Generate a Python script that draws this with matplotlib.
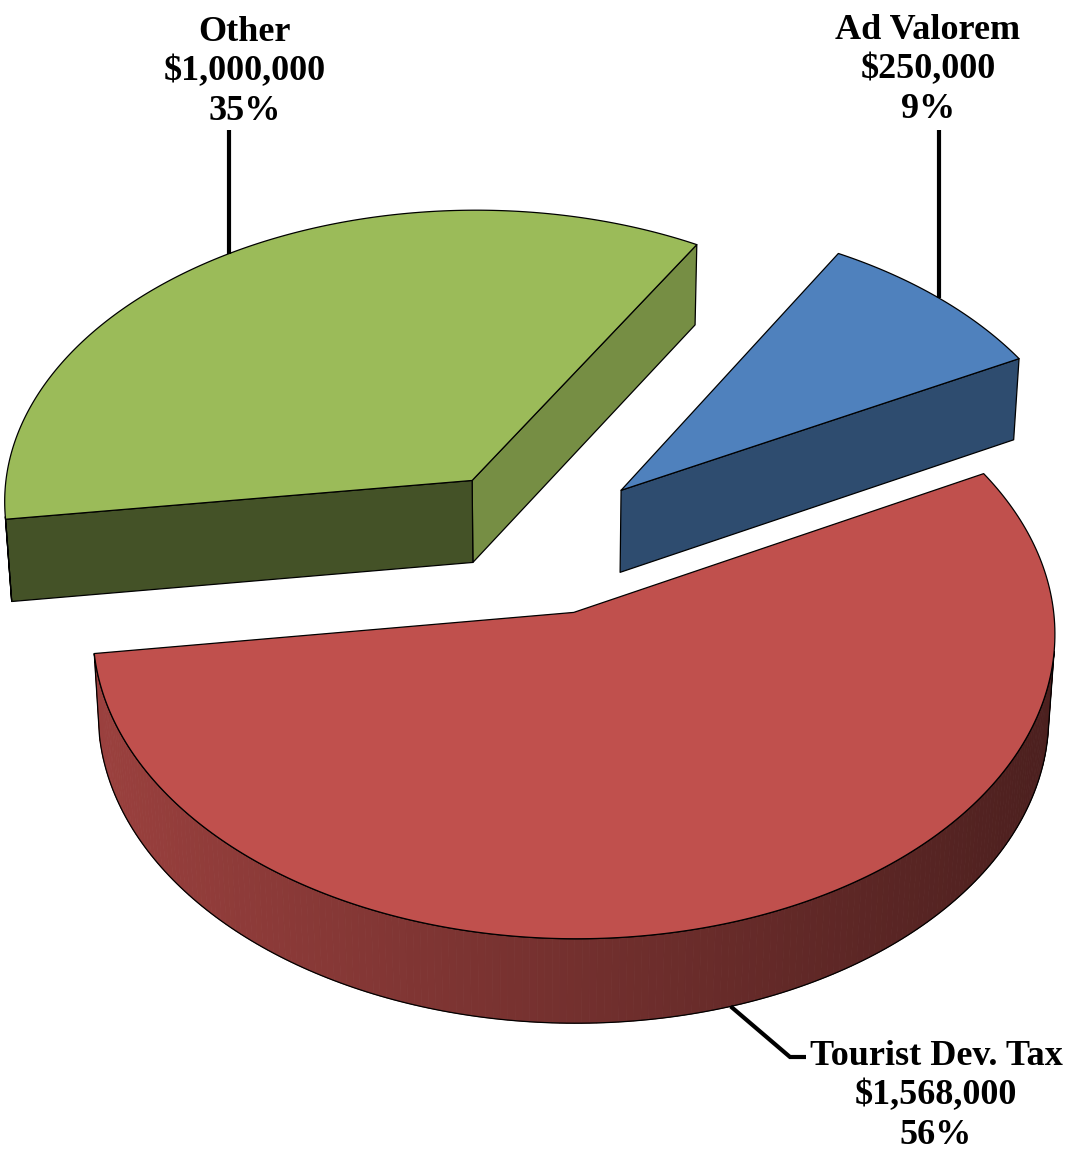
import numpy as np
import matplotlib.pyplot as plt
from matplotlib.patches import Polygon
from matplotlib.colors import to_rgb

# revenue sources
labels = ['Ad Valorem', 'Other', 'Tourist Dev. Tax']
amounts = [250000, 1000000, 1568000]
colors = ['#4f81bd', '#9bbb59', '#c0504d']
explode = [0.25, 0.25, 0.25]

# view of the 3-D pie (radius 1 disc, perspective camera)
START = 28.0
ELEV = np.radians(38.7)
DIST = 12.0
FOCAL = 5670
CX, CY = 537, 541
THICK = 0.226

SIN, COS = np.sin(ELEV), np.cos(ELEV)
CAM = np.array([0.0, -DIST * COS, DIST * SIN])


def project(x, y, z):
    up = y * SIN + z * COS
    depth = y * COS - z * SIN + DIST
    return CX + FOCAL * x / depth, CY - FOCAL * up / depth


def facing(normal, point):
    return np.dot(normal, CAM - np.asarray(point)) > 0


def shade(color, k):
    return tuple(np.clip(np.array(to_rgb(color)) * k, 0, 1))


fig = plt.figure(figsize=(10.7, 11.5), dpi=100)
ax = fig.add_axes([0, 0, 1, 1])
ax.set_xlim(0, 1070)
ax.set_ylim(1150, 0)
ax.axis('off')

total = sum(amounts)
fracs = [a / total for a in amounts]
bounds = START + 360 * np.concatenate([[0], np.cumsum(fracs)])

slices = []
for i in range(len(amounts)):
    t0, t1 = np.radians(bounds[i]), np.radians(bounds[i + 1])
    mid = (t0 + t1) / 2
    ox, oy = explode[i] * np.cos(mid), explode[i] * np.sin(mid)
    slices.append((i, t0, t1, mid, ox, oy))

# back slices first
order = sorted(slices, key=lambda s: -s[5])

EDGE = dict(edgecolor='black', linewidth=0.9)

for i, t0, t1, mid, ox, oy in order:
    col = colors[i]
    ts = np.linspace(t0, t1, 240)
    rx, ry = ox + np.cos(ts), oy + np.sin(ts)

    # radial walls
    for t, sign in ((t0, -1), (t1, 1)):
        n = np.array([-sign * np.sin(t), sign * np.cos(t), 0.0])
        ex, ey = ox + np.cos(t), oy + np.sin(t)
        if not facing(n, (ox, oy, 0)):
            continue
        pts = [project(ox, oy, 0), project(ex, ey, 0),
               project(ex, ey, -THICK), project(ox, oy, -THICK)]
        k = 0.38 + 0.44 * n[0]
        ax.add_patch(Polygon(pts, closed=True, facecolor=shade(col, k),
                             joinstyle='round', **EDGE))

    # curved outer side
    vis = np.array([facing((np.cos(t), np.sin(t), 0), (x, y, 0))
                    for t, x, y in zip(ts, rx, ry)])
    if vis.any():
        idx = np.where(vis)[0]
        a, b = idx[0], idx[-1]
        for j in range(a, b):
            tm = (ts[j] + ts[j + 1]) / 2
            k = 0.6 - 0.21 * np.cos(tm)
            c = shade(col, k)
            quad = [project(rx[j], ry[j], 0), project(rx[j + 1], ry[j + 1], 0),
                    project(rx[j + 1], ry[j + 1], -THICK), project(rx[j], ry[j], -THICK)]
            ax.add_patch(Polygon(quad, closed=True, facecolor=c, edgecolor=c,
                                 linewidth=0.6))
        top = [project(x, y, 0) for x, y in zip(rx[a:b + 1], ry[a:b + 1])]
        bot = [project(x, y, -THICK) for x, y in zip(rx[a:b + 1], ry[a:b + 1])]
        ax.add_patch(Polygon(top + bot[::-1], closed=True, facecolor='none', **EDGE))

    # top face
    pts = [project(ox, oy, 0)] + [project(x, y, 0) for x, y in zip(rx, ry)]
    ax.add_patch(Polygon(pts, closed=True, facecolor=col, joinstyle='round', **EDGE))

# labels with leader lines
font = dict(family='Liberation Serif', fontsize=26, fontweight='bold',
            ha='center', va='center', linespacing=1.27)
label_pos = {0: (928, 70), 1: (245, 72), 2: (936, 1096)}
for i, t0, t1, mid, ox, oy in slices:
    text = f"{labels[i]}\n${amounts[i]:,}\n{fracs[i] * 100:.0f}%"
    lx, ly = label_pos[i]
    ax.text(lx, ly, text, **font)
    ex, ey = ox + np.cos(mid), oy + np.sin(mid)
    if i == 2:
        px, py = project(ex, ey, -THICK)
        ax.plot([px, 790, 806], [py, 1057, 1057], color='black', lw=3,
                solid_joinstyle='miter', solid_capstyle='butt')
    else:
        px, py = project(ex, ey, 0)
        ax.plot([px, px], [py, 130], color='black', lw=3, solid_capstyle='butt')

fig.savefig('out.png', dpi=100, facecolor='white')
